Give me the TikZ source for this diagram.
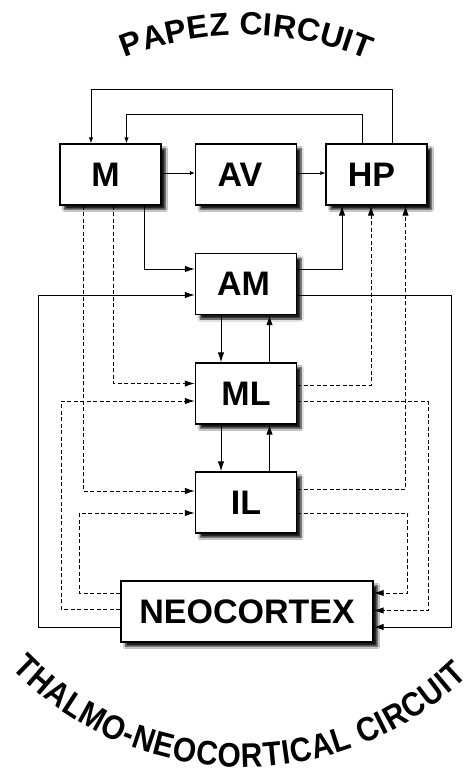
\documentclass[tikz,border=0pt]{standalone}
\usepackage{fontspec}
\setmainfont{Liberation Sans}
\newfontfamily\btmfam{Liberation Sans}[FakeStretch=0.88]
\usetikzlibrary{arrows.meta,shadows.blur,decorations.text}
\newcommand\boxfnt{\fontsize{34}{34}\selectfont\bfseries}
\newcommand\ttlfnt{\fontsize{32}{32}\selectfont\bfseries}
\newcommand\btmfnt{\btmfam\fontsize{34}{34}\selectfont\bfseries}
\tikzset{
  box/.style={draw, line width=1.4pt, fill=white, minimum width=101pt, minimum height=61pt,
    inner sep=0pt, font=\boxfnt,
    blur shadow={shadow xshift=4.5pt, shadow yshift=-4.5pt, shadow blur steps=6, shadow opacity=90}},
  conn/.style={line width=1pt, -{Latex[length=10pt,width=6.5pt]}},
  dconn/.style={conn, dash pattern=on 4pt off 2.5pt},
  smallarr/.style={line width=1pt, -{Latex[open,length=5pt,width=4.5pt]}},
  toparr/.style={line width=1pt, -{Latex[length=6pt,width=4.5pt]}},
}
\begin{document}
\begin{tikzpicture}[x=1pt,y=1pt]
\fill[white] (0,0) rectangle (472,-779);
\useasboundingbox (0,0) rectangle (472,-779);
% boxes
\node[box] (M)  at (110.5,-174.5) {M\kern10pt};
\node[box] (AV) at (246,-174.5) {AV\kern12pt};
\node[box] (HP) at (376.5,-174.5) {HP\kern10pt};
\node[box] (AM) at (246,-284) {AM\kern5pt};
\node[box] (ML) at (246,-393.5) {ML};
\node[box] (IL) at (246,-502.5) {IL};
\node[box, minimum width=252pt] (NEO) at (247,-611.5) {NEOCORTEX};
% top loops HP -> M
\draw[toparr] ([xshift=15.5]HP.north) -- ++(0,54) -| ([xshift=-19.5]M.north);
\draw[toparr] ([xshift=-14.5]HP.north) -- ++(0,29) -| ([xshift=16]M.north);
% Papez chain
\draw[smallarr] ([yshift=1.5]M.east) -- ([yshift=1.5]AV.west);
\draw[smallarr] ([yshift=1.5]AV.east) -- ([yshift=1.5]HP.west);
\draw[conn] ([xshift=33.5]M.south) |- ([yshift=15]AM.west);
\draw[conn] ([yshift=15]AM.east) -| ([xshift=-34.5]HP.south);
% solid outer loops
\draw[conn] ([yshift=-15.5]NEO.west) -- ++(-82,0) |- ([yshift=-11]AM.west);
\draw[conn] ([yshift=-11]AM.east) -- ++(154,0) |- ([yshift=-15.5]NEO.east);
% vertical chain
\draw[conn] ([xshift=-25]AM.south) -- ([xshift=-25]ML.north);
\draw[conn] ([xshift=23.5]ML.north) -- ([xshift=23.5]AM.south);
\draw[conn] ([xshift=-25]ML.south) -- ([xshift=-25]IL.north);
\draw[conn] ([xshift=23.5]IL.north) -- ([xshift=23.5]ML.south);
% dashed from M
\draw[dconn] ([xshift=3]M.south) |- ([yshift=10]ML.west);
\draw[dconn] ([xshift=-27.5]M.south) |- ([yshift=11.5]IL.west);
% dashed from NEOCORTEX left
\draw[dconn] ([yshift=18.5]NEO.west) -- ++(-41,0) |- ([yshift=-10.5]IL.west);
\draw[dconn] ([yshift=2.5]NEO.west) -- ++(-59,0) |- ([yshift=-7.5]ML.west);
% dashed right side
\draw[dconn] ([yshift=8]ML.east) -| ([xshift=-5.5]HP.south);
\draw[dconn] ([yshift=-8]ML.east) -- ++(131,0) |- ([yshift=1]NEO.east);
\draw[dconn] ([yshift=13]IL.east) -| ([xshift=29]HP.south);
\draw[dconn] ([yshift=-10.5]IL.east) -- ++(110.5,0) |- ([yshift=18.5]NEO.east);
% titles
\path[decorate, decoration={text along path, text={|\ttlfnt|PAPEZ CIRCUIT}, text align={fit to path}}]
  (124.8,-58) arc[start angle=111.8, end angle=67.3, radius=321];
\path[decorate, decoration={text along path, text={|\btmfnt|THALMO-NEOCORTICAL CIRCUIT}, text align={fit to path}}]
  (11.9,-668.7) arc[start angle=224, end angle=314, radius=322];
\end{tikzpicture}
\end{document}
